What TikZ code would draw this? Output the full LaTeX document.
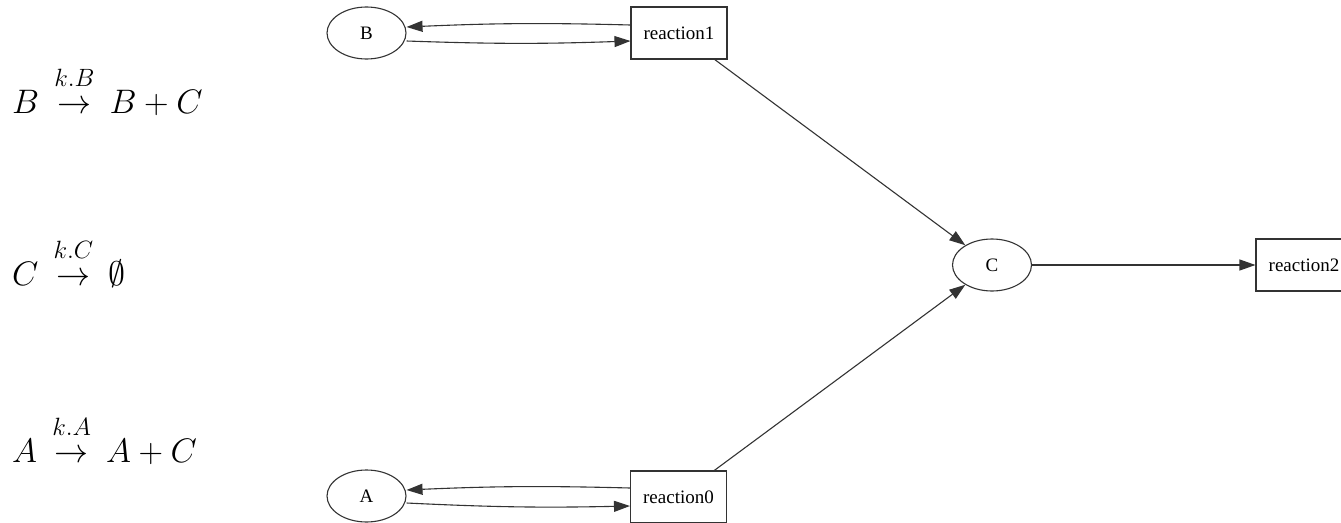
\RequirePackage{fix-cm}
\documentclass[tikz,border=0pt]{standalone}
\usepackage{amsmath}
\usepackage{fontspec}
\setmainfont{Liberation Serif}
\usetikzlibrary{arrows.meta,shapes.geometric}
\tikzset{
  sp/.style={draw=black!80, line width=1.1pt, ellipse, minimum width=79pt, minimum height=52pt, inner sep=0pt, font=\fontsize{19}{22}\selectfont},
  rx/.style={draw=black!80, line width=1.1pt, rectangle, minimum width=96pt, minimum height=52pt, inner sep=0pt, font=\fontsize{19}{22}\selectfont},
  ed/.style={draw=black!80, line width=1.1pt, -{Triangle[length=16pt,width=11pt]}},
  eq/.style={anchor=base west, inner sep=0pt, font=\fontsize{34}{40}\selectfont}
}
\newcommand{\rxn}[1]{\mathrel{\,\overset{\raisebox{9pt}{\fontsize{25}{30}\selectfont$#1$}}{\rightarrow}\,}}
\begin{document}
\begin{tikzpicture}[x=1pt,y=-1pt]
\clip (0,0) rectangle (1341,522);
\fill[white] (0,0) rectangle (1341,522);
% equations
\node[eq] (eqB) at (12,113) {$B \rxn{k.B} B + C$};
\node[eq] (eqC) at (12,285) {$C \rxn{k.C} \emptyset$};
\node[eq] (eqA) at (12,462) {$A \rxn{k.A} A + C$};
% graph
\node[sp] (B) at (366.5,33) {B};
\node[rx] (r1) at (679,33) {reaction1};
\node[sp] (C) at (992,265) {C};
\node[rx] (r2) at (1304,265) {reaction2};
\node[sp] (A) at (366.5,496) {A};
\node[rx] (r0) at (678.5,497) {reaction0};
\draw[ed] ([yshift=8pt]r1.west) to[bend right=2] ([yshift=6pt]B.east);
\draw[ed] ([yshift=-8pt]B.east) to[bend right=2] ([yshift=-8pt]r1.west);
\draw[ed] ([yshift=9pt]r0.west) to[bend right=2] ([yshift=6pt]A.east);
\draw[ed] ([yshift=-7pt]A.east) to[bend right=2] ([yshift=-9pt]r0.west);
\draw[ed] (r1) -- (C);
\draw[ed] (r0) -- (C);
\draw[ed] (C) -- (r2);
\end{tikzpicture}
\end{document}
